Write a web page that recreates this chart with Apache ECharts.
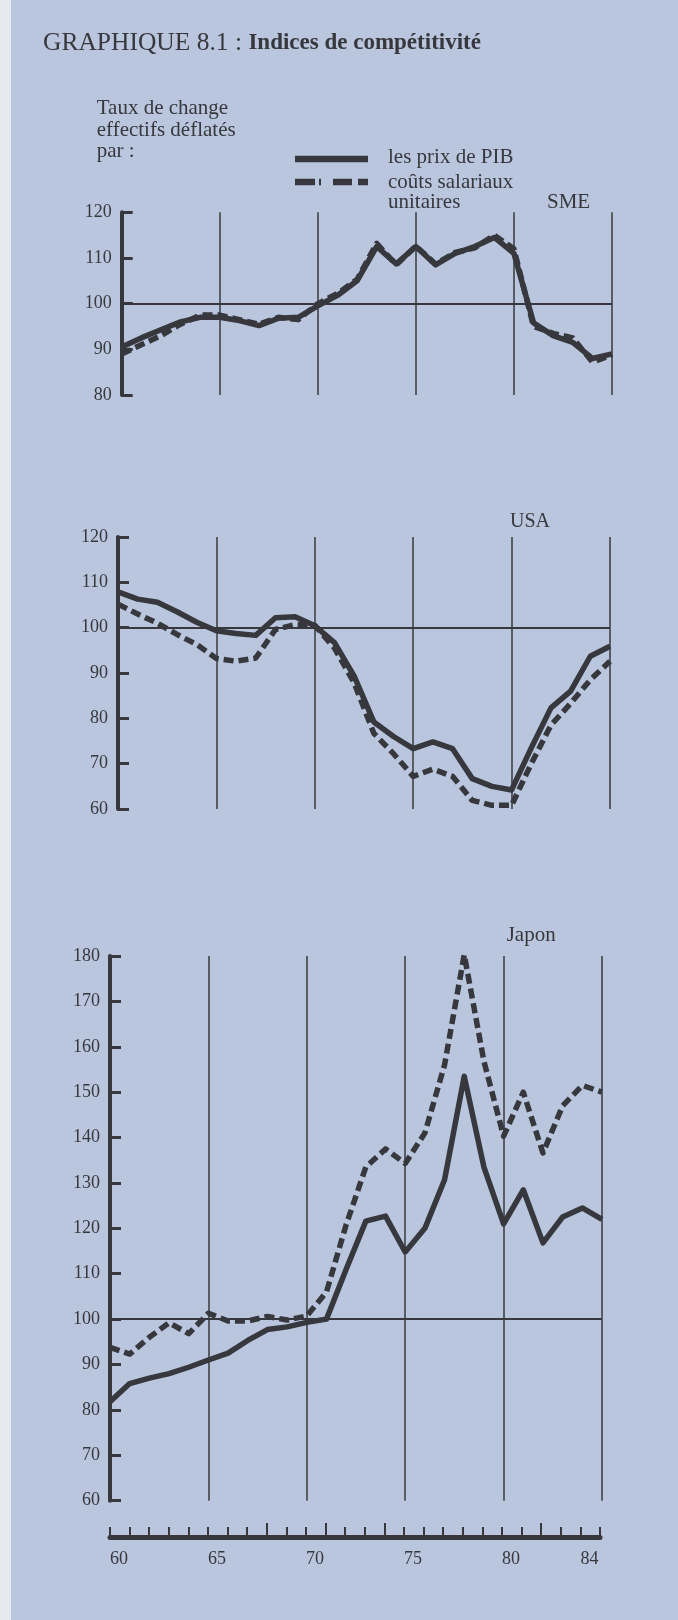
<!DOCTYPE html>
<html>
<head>
<meta charset="utf-8">
<title>Indices de compétitivité</title>
<script src="https://cdn.jsdelivr.net/npm/echarts@6/dist/echarts.min.js"></script>
<style>
  html, body { margin: 0; padding: 0; background: #b9c6de; }
  #chart { width: 678px; height: 1620px; }
</style>
</head>
<body>
<div id="chart"></div>
<script>
// Years (19xx) shared by all three panels
const years = [60, 61, 62, 63, 64, 65, 66, 67, 68, 69, 70, 71, 72,
               73, 74, 75, 76, 77, 78, 79, 80, 81, 82, 83, 84, 85];

// SME — effective exchange rate deflated by GDP prices / unit labour costs
const smePib   = [90.5, 92.5, 94.3, 96.0, 97.0, 97.0, 96.3, 95.2, 96.8, 97.0, 99.5, 101.8, 105.0,
                  112.5, 108.7, 112.5, 108.5, 111.0, 112.5, 114.5, 111.0, 95.8, 93.0, 91.5, 88.0, 89.0];
const smeCouts = [89.0, 91.0, 93.0, 95.5, 97.5, 97.5, 96.5, 95.5, 97.0, 96.5, 100.0, 102.2, 105.3,
                  113.2, 108.5, 112.6, 108.7, 111.2, 112.2, 115.0, 112.0, 95.0, 93.5, 92.5, 87.2, 88.8];

// USA
const usaPib   = [107.9, 106.3, 105.6, 103.5, 101.2, 99.3, 98.7, 98.3, 102.2, 102.4, 100.4, 96.7, 89.3,
                  79.2, 76.0, 73.3, 74.8, 73.3, 66.7, 65.0, 64.2, 73.5, 82.3, 86.0, 93.7, 95.9];
const usaCouts = [105.2, 103.0, 101.0, 98.5, 96.3, 93.2, 92.6, 93.3, 99.6, 100.7, 100.5, 95.5, 87.8,
                  76.7, 72.2, 67.2, 68.8, 67.2, 61.9, 60.8, 60.8, 70.0, 78.5, 83.3, 88.5, 92.6];

// Japon
const japPib   = [81.8, 85.8, 87.0, 88.0, 89.4, 91.0, 92.5, 95.3, 97.7, 98.3, 99.3, 100.0, 111.0,
                  121.6, 122.7, 114.8, 120.0, 130.7, 153.5, 133.5, 121.0, 128.5, 116.8, 122.5, 124.5, 122.0];
const japCouts = [93.8, 92.3, 96.0, 99.2, 96.8, 101.3, 99.6, 99.6, 100.6, 99.8, 100.7, 106.0, 120.8,
                  133.5, 137.5, 134.3, 141.0, 156.0, 180.3, 156.8, 140.3, 150.0, 136.6, 147.0, 151.5, 150.0];

// Year labels on the shared time axis, and the years whose ticks are drawn longer
const yearLabels = [60, 65, 70, 75, 80, 84];
const longTickYears = [68, 71, 74, 82];

// Text
const titleLead = 'GRAPHIQUE 8.1 : ';
const titleMain = 'Indices de compétitivité';
const captionLines = ['Taux de change', 'effectifs déflatés', 'par :'];
const legendPib = 'les prix de PIB';
const legendCouts = ['coûts salariaux', 'unitaires'];
const panelNames = ['SME', 'USA', 'Japon'];

const INK = '#37383d';
const SERIF = '"Liberation Serif", "Times New Roman", serif';

const panels = [
  { name: panelNames[0], pib: smePib, couts: smeCouts, min: 80, max: 120,
    box: { left: 121.7, top: 212.3, width: 490.3, height: 182.7 } },
  { name: panelNames[1], pib: usaPib, couts: usaCouts, min: 60, max: 120,
    box: { left: 118, top: 537, width: 492, height: 272 } },
  { name: panelNames[2], pib: japPib, couts: japCouts, min: 60, max: 180,
    box: { left: 110, top: 956, width: 492, height: 544.7 } }
];
const timeAxisBox = { left: 110, top: 1500, width: 490, height: 37 };

const pairs = vals => years.map((y, i) => [y, vals[i]]);

const grid = panels.map(p => Object.assign({}, p.box)).concat([Object.assign({}, timeAxisBox)]);

const xAxis = panels.map((p, i) => ({
  gridIndex: i, type: 'value', min: 60, max: 85, interval: 5,
  axisLine: { show: false }, axisTick: { show: false }, axisLabel: { show: false },
  splitLine: { show: true, lineStyle: { color: INK, width: 1.5 } }
}));
// shared time axis under the Japan panel
xAxis.push({
  gridIndex: 3, type: 'value', min: 60, max: 85, interval: 1, position: 'bottom',
  axisLine: { show: true, lineStyle: { color: INK, width: 5 } },
  axisTick: { show: true, inside: true, length: 10, lineStyle: { color: INK, width: 2 } },
  axisLabel: {
    show: true, color: INK, fontFamily: SERIF, fontSize: 18, margin: 13, align: 'left',
    formatter: v => (yearLabels.indexOf(v) >= 0 ? String(v) : '')
  },
  splitLine: { show: false }
});
xAxis.push({
  gridIndex: 3, type: 'value', min: 60, max: 85, position: 'bottom',
  axisLine: { show: false },
  axisTick: { show: true, inside: true, length: 14, customValues: longTickYears,
              lineStyle: { color: INK, width: 2 } },
  axisLabel: { show: false },
  splitLine: { show: false }
});

const yAxis = panels.map((p, i) => ({
  gridIndex: i, type: 'value', min: p.min, max: p.max, interval: 10,
  axisLine: { show: true, lineStyle: { color: INK, width: 4 } },
  axisTick: { show: true, inside: true, length: 11, lineStyle: { color: INK, width: 3 } },
  axisLabel: { color: INK, fontFamily: SERIF, fontSize: 18, margin: 10 },
  splitLine: { show: false }
}));
yAxis.push({ gridIndex: 3, type: 'value', min: 0, max: 1, show: false });

const series = [];
panels.forEach((p, i) => {
  series.push({
    name: p.name + ' coûts salariaux unitaires', type: 'line',
    xAxisIndex: i, yAxisIndex: i, data: pairs(p.couts),
    symbol: 'none', showSymbol: false, silent: true,
    lineStyle: { color: INK, width: 5.5, type: [10, 5], cap: 'butt', join: 'round' },
    markLine: {
      silent: true, symbol: ['none', 'none'], label: { show: false },
      lineStyle: { color: INK, width: 2, type: 'solid' },
      data: [{ yAxis: 100 }]
    },
    z: 2
  });
  series.push({
    name: p.name + ' prix de PIB', type: 'line',
    xAxisIndex: i, yAxisIndex: i, data: pairs(p.pib),
    symbol: 'none', showSymbol: false, silent: true,
    lineStyle: { color: INK, width: 5.5, type: 'solid', cap: 'butt', join: 'round' },
    z: 3
  });
});

const txt = (text, x, y, size) => ({
  type: 'text', silent: true,
  style: { text, x, y, fill: INK, font: size + 'px ' + SERIF, verticalAlign: 'middle' }
});

const graphic = [
  // page margin on the left edge
  { type: 'rect', silent: true, z: -10, shape: { x: 0, y: 0, width: 11, height: 1620 },
    style: { fill: '#e6e9ef' } },
  { type: 'text', silent: true,
    style: {
      x: 43, y: 43.5, verticalAlign: 'middle', fill: INK,
      text: '{r|' + titleLead + '}{b|' + titleMain + '}',
      rich: {
        r: { fontFamily: SERIF, fontSize: 25.5, fontWeight: 'normal', fill: INK },
        b: { fontFamily: SERIF, fontSize: 23, fontWeight: 'bold', fill: INK }
      }
    } },
  txt(captionLines[0], 96.7, 108, 21),
  txt(captionLines[1], 96.7, 130, 21),
  txt(captionLines[2], 96.7, 151.5, 21),
  // legend samples
  { type: 'line', silent: true, shape: { x1: 295, y1: 159, x2: 368, y2: 159 },
    style: { stroke: INK, lineWidth: 6.5 } },
  { type: 'line', silent: true, shape: { x1: 295, y1: 182, x2: 368, y2: 182 },
    style: { stroke: INK, lineWidth: 6.5, lineDash: [20, 4, 2, 12, 19, 6, 10, 10] } },
  txt(legendPib, 388, 157, 21),
  txt(legendCouts[0], 388, 182, 21),
  txt(legendCouts[1], 388, 202, 21),
  // panel names
  txt(panelNames[0], 547, 202, 21),
  txt(panelNames[1], 510, 521.7, 20),
  txt(panelNames[2], 506.7, 935, 21)
];

const chart = echarts.init(document.getElementById('chart'), null, { renderer: 'canvas' });
chart.setOption({
  backgroundColor: '#b9c6de',
  animation: false,
  grid, xAxis, yAxis, series, graphic
});
</script>
</body>
</html>
